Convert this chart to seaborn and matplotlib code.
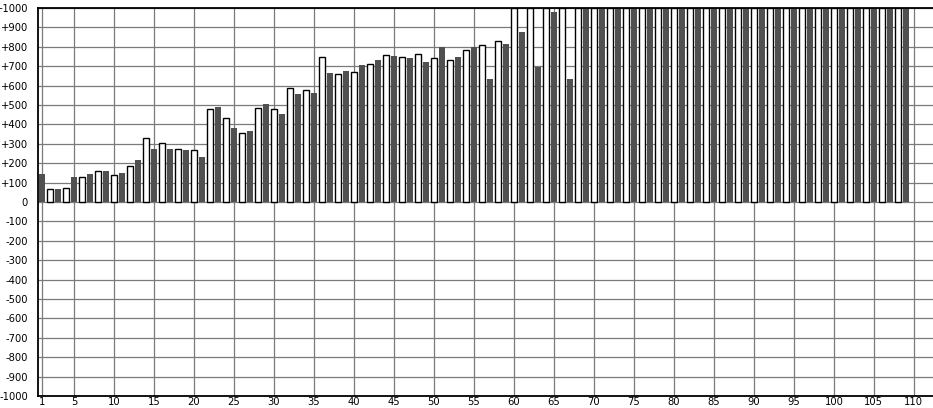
import matplotlib
matplotlib.use("Agg")
import matplotlib.pyplot as plt
import pandas as pd
import seaborn as sns

# ---- data ----
positions = list(range(1, 110))
values = [146, 67, 67, 72, 129, 127, 144, 160, 160, 139,
          151, 186, 216, 328, 273, 303, 273, 271, 268, 266,
          232, 478, 490, 431, 381, 356, 366, 483, 505, 478,
          454, 587, 557, 577, 562, 746, 665, 658, 675, 670,
          706, 711, 732, 756, 751, 746, 742, 763, 722, 741,
          797, 730, 747, 782, 797, 808, 634, 828, 814, 1000,
          876, 1000, 696, 1000, 979, 1000, 634, 1000, 1000, 1000,
          1000, 1000, 1000, 1000, 1000, 1000, 1000, 1000, 1000, 1000,
          1000, 1000, 1000, 1000, 1000, 1000, 1000, 1000, 1000, 1000,
          1000, 1000, 1000, 1000, 1000, 1000, 1000, 1000, 1000, 1000,
          1000, 1000, 1000, 1000, 1000, 1000, 1000, 1000, 1000]
series = ["dark" if p % 2 == 1 else "light" for p in positions]
x_ticks = [1, 5, 10, 15, 20, 25, 30, 35, 40, 45, 50, 55, 60, 65, 70, 75,
           80, 85, 90, 95, 100, 105, 110]
y_ticks = list(range(-1000, 1001, 100))

df = pd.DataFrame({"pos": positions, "value": values, "series": series})

sns.set_theme(style="white")
plt.rcParams['font.family'] = ['DejaVu Sans']

W, H = 933, 408
fig = plt.figure(figsize=(W / 100, H / 100), dpi=100)
ax = fig.add_axes([37.7 / W, 1 - 396 / H, (W - 37.7) / W, (396 - 8) / H])

DARK = "#505050"
sns.barplot(data=df, x="pos", y="value", hue="series",
            palette={"dark": DARK, "light": "white"},
            native_scale=True, dodge=False, width=0.75,
            legend=False, ax=ax, linewidth=0, saturation=1, zorder=3)

for p in ax.patches:
    fc = p.get_facecolor()
    if fc[0] > 0.9:
        p.set_edgecolor("black")
        p.set_linewidth(1.0)
    else:
        p.set_edgecolor("none")
        p.set_linewidth(0)

ax.set_xlim(0.46, 112.4)
ax.set_ylim(-1000, 1000)
ax.set_xticks(x_ticks)
ax.set_xticklabels([str(t) for t in x_ticks])
ax.set_yticks(y_ticks)
ax.set_yticklabels([("%+d" % t) if t != 0 else "0" for t in y_ticks])
ax.set_xlabel("")
ax.set_ylabel("")

ax.set_axisbelow(True)
ax.grid(True, which="major", axis="both", color="#7a7a7a", linewidth=0.9)

ax.tick_params(axis="y", length=0, pad=7.0, labelsize=7.2, labelcolor="black")
ax.tick_params(axis="x", length=0, pad=1.0, labelsize=7.2, labelcolor="black")

for side in ["left", "top", "bottom"]:
    ax.spines[side].set_visible(True)
    ax.spines[side].set_color("black")
    ax.spines[side].set_linewidth(1.3)
    ax.spines[side].set_zorder(5)
ax.spines["right"].set_visible(False)

fig.savefig("out.png", dpi=100, facecolor="white")
